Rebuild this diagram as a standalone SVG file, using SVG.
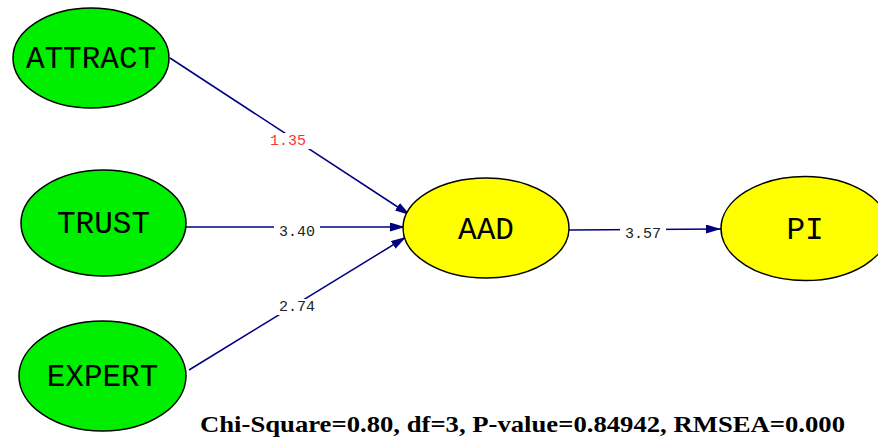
<svg xmlns="http://www.w3.org/2000/svg" width="878" height="440" viewBox="0 0 878 440">
<style>
.exo ellipse{fill:#00ee00;stroke:#000;stroke-width:1.5}
.endo ellipse{fill:#ffff00;stroke:#000;stroke-width:1.5}
.nt{font-family:"Liberation Mono","Courier New",monospace;font-size:31px;fill:#000;text-anchor:middle;dominant-baseline:central}
.edge{stroke:#000080;stroke-width:1.5;fill:none}
.lbg{fill:#fff}
.lt{font-family:"Liberation Mono","Courier New",monospace;font-size:15px;fill:#222;text-anchor:middle;dominant-baseline:central}
.red{fill:#ff3333}
.fit{font-family:"Liberation Serif","Times New Roman",serif;font-weight:bold;font-size:24px;fill:#000}
</style>
<defs>
<marker id="arr" markerUnits="userSpaceOnUse" markerWidth="16" markerHeight="10" refX="15" refY="4.5" orient="auto">
<path d="M0,0 L15,4.5 L0,9 z" fill="#000080"/>
</marker>
</defs>
<g id="connectors">
<g id="e-attract-aad">
<line class="edge" x1="170" y1="58" x2="410" y2="215" marker-end="url(#arr)"/>
<rect class="lbg" x="265" y="133" width="46" height="16"/>
<text class="lt red" x="288" y="141">1.35</text>
</g>
<g id="e-trust-aad">
<line class="edge" x1="186" y1="227" x2="405" y2="227" marker-end="url(#arr)"/>
<rect class="lbg" x="274" y="224" width="46" height="16"/>
<text class="lt" x="297" y="232">3.40</text>
</g>
<g id="e-expert-aad">
<line class="edge" x1="189" y1="370" x2="406" y2="237" marker-end="url(#arr)"/>
<rect class="lbg" x="274" y="299" width="46" height="16"/>
<text class="lt" x="297" y="307">2.74</text>
</g>
<g id="e-aad-pi">
<line class="edge" x1="569" y1="230" x2="721" y2="229" marker-end="url(#arr)"/>
<rect class="lbg" x="620" y="226" width="46" height="16"/>
<text class="lt" x="643" y="234">3.57</text>
</g>
</g>
<g id="ATTRACT" class="exo"><ellipse cx="91" cy="58" rx="78" ry="50"/><text class="nt" x="91" y="59">ATTRACT</text></g>
<g id="TRUST" class="exo"><ellipse cx="103.5" cy="223" rx="82.5" ry="53"/><text class="nt" x="103.5" y="224">TRUST</text></g>
<g id="EXPERT" class="exo"><ellipse cx="102.5" cy="376" rx="83.5" ry="55"/><text class="nt" x="102.5" y="377">EXPERT</text></g>
<g id="AAD" class="endo"><ellipse cx="486" cy="228" rx="83" ry="50"/><text class="nt" x="486" y="230">AAD</text></g>
<g id="PI" class="endo"><ellipse cx="805" cy="228.5" rx="84" ry="52"/><text class="nt" x="805" y="230">PI</text></g>
<text id="fit" class="fit" x="200" y="432" textLength="645" lengthAdjust="spacingAndGlyphs">Chi-Square=0.80, df=3, P-value=0.84942, RMSEA=0.000</text>
</svg>
